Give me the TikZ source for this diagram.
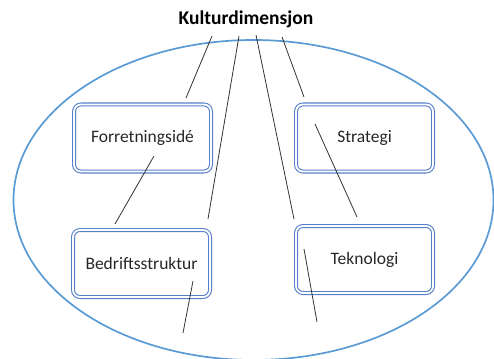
\documentclass[tikz,border=0pt]{standalone}
\usepackage{fontspec}
\usetikzlibrary{shapes.geometric}
\setmainfont{Carlito}
\definecolor{ellblue}{HTML}{5B9BD5}
\definecolor{boxblue}{HTML}{4472C4}
\begin{document}
\begin{tikzpicture}[x=1pt,y=-1pt,
  dimbox/.style={draw=boxblue!90, double=white, double distance=1.8pt, line width=1.1pt,
    rounded corners=7pt, minimum width=137pt, minimum height=67pt, inner sep=0pt,
    font=\fontsize{17.5}{20}\selectfont, text=black!85},
  link/.style={draw=black!80, line width=0.8pt}]
\useasboundingbox (0,0) rectangle (494,358);
\begin{scope}
\clip (0,0) rectangle (494,358);
\node[draw=ellblue, line width=1.7pt, ellipse, minimum width=480pt, minimum height=320pt, inner sep=0pt] (ell) at (253.5,200) {};
\end{scope}
\node[font=\bfseries\fontsize{19.5}{22}\selectfont] (title) at (246,19) {Kulturdimensjon};
\node[dimbox] (fi) at (142.5,138) {Forretningsidé};
\node[dimbox] (st) at (364.5,138) {Strategi};
\node[dimbox] (bs) at (141.5,263.5) {Bedriftsstruktur};
\node[dimbox] (tk) at (364.5,259.5) {Teknologi};
\coordinate (a1) at (212,36); \coordinate (b1) at (186,98);
\coordinate (a2) at (239,36); \coordinate (b2) at (208,219);
\coordinate (a3) at (256,35); \coordinate (b3) at (294,219);
\coordinate (a4) at (282,37); \coordinate (b4) at (304,97);
\coordinate (a5) at (315,124); \coordinate (b5) at (357,217);
\coordinate (a6) at (154,156); \coordinate (b6) at (115,224);
\coordinate (a7) at (193,281); \coordinate (b7) at (183,333);
\coordinate (a8) at (304,249); \coordinate (b8) at (317,322);
\foreach \i in {1,...,8} {\draw[link] (a\i) -- (b\i);}
\end{tikzpicture}
\end{document}
